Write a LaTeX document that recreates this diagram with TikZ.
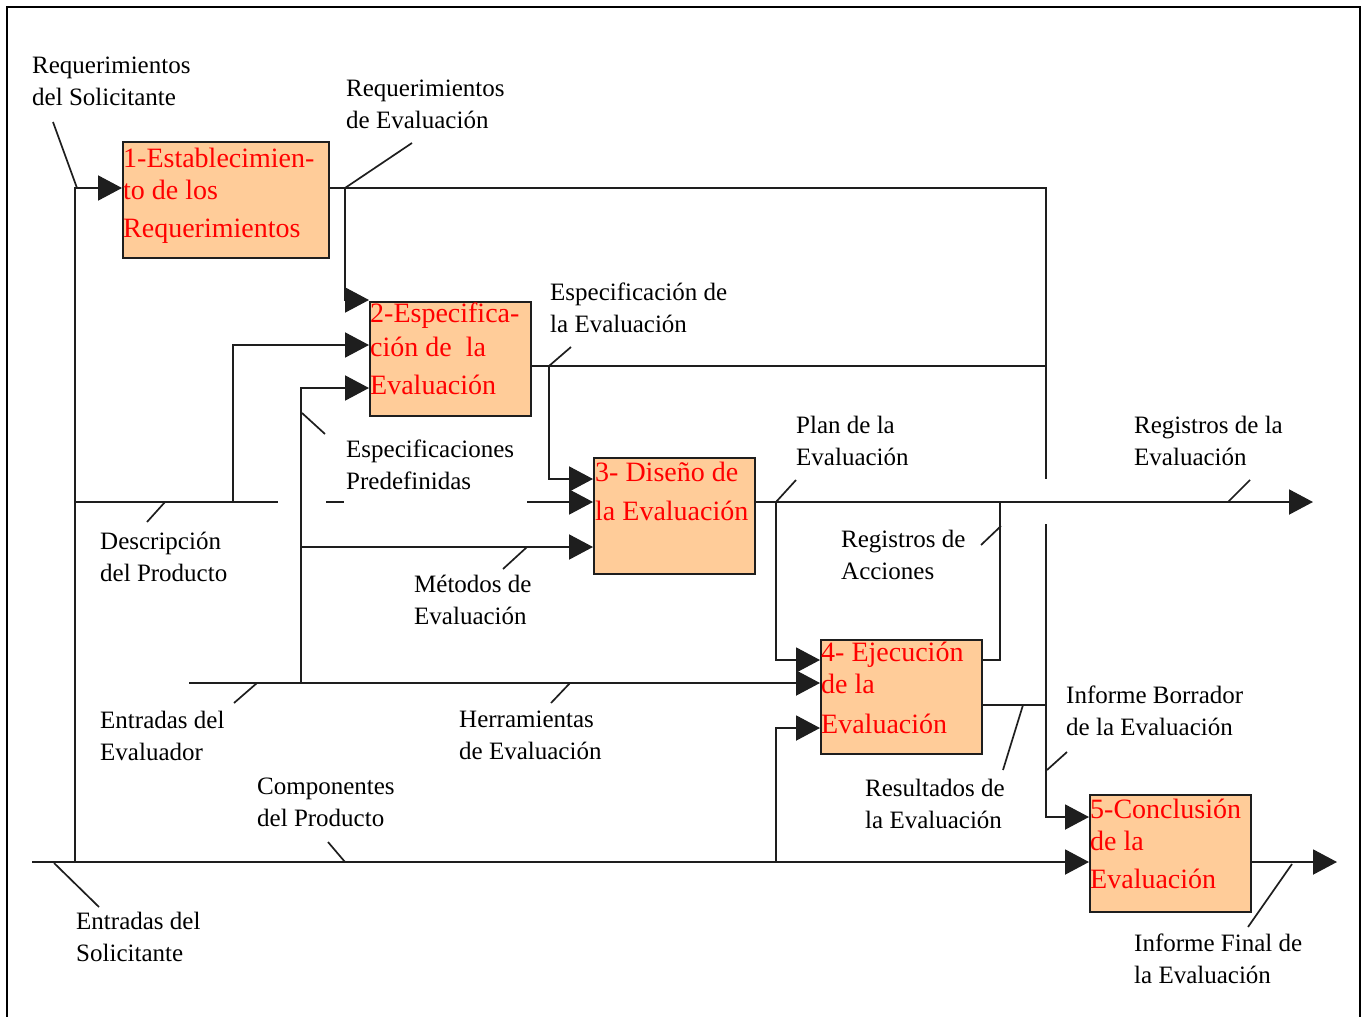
\documentclass[tikz,border=0pt]{standalone}
\usepackage{fontspec}
\setmainfont{Liberation Serif}
\usetikzlibrary{arrows.meta}
\definecolor{peach}{RGB}{255,204,153}
\definecolor{lncol}{RGB}{30,30,30}
\begin{document}
\begin{tikzpicture}[x=1pt,y=-1pt,
  ln/.style={draw=lncol, line width=2pt},
  arr/.style={ln, -{Triangle[length=24pt,width=25pt]}},
  lead/.style={draw=lncol, line width=1.7pt},
  procbox/.style={draw=lncol, line width=2pt, fill=peach, inner sep=0pt, anchor=north west},
  boxtxt/.style={text=red, font=\fontsize{28}{32}\selectfont, align=left, inner sep=0pt, anchor=north west, execute at begin node={\rule{0pt}{22pt}}},
  lbl/.style={text=black, font=\fontsize{25}{32}\selectfont, align=left, inner sep=0pt, anchor=north west, execute at begin node={\rule{0pt}{20pt}}}]
\useasboundingbox (0,0) rectangle (1366,1017);
% frame
\draw[line width=2pt, black] (7,1017) -- (7,7) -- (1360,7) -- (1360,1017);

% process boxes
\node[procbox, minimum width=206pt, minimum height=116pt] (b1) at (122,141) {};
\node[procbox, minimum width=161pt, minimum height=114pt] (b2) at (369,301) {};
\node[procbox, minimum width=161pt, minimum height=116pt] (b3) at (593,457) {};
\node[procbox, minimum width=161pt, minimum height=114pt] (b4) at (820,639) {};
\node[procbox, minimum width=161pt, minimum height=117pt] (b5) at (1089,794) {};

% junction / free-end coordinates
\coordinate (solL) at (32,862);
\coordinate (solT) at (75,862);
\coordinate (solK) at (75,188);
\coordinate (desJ) at (75,502);
\coordinate (desA) at (278,502);
\coordinate (desB) at (326,502);
\coordinate (desC) at (344,502);
\coordinate (desD) at (527,502);
\coordinate (desU) at (233,502);
\coordinate (desK) at (233,345);
\coordinate (reJ) at (345,188);
\coordinate (reK) at (345,300);
\coordinate (trTop) at (1046,188);
\coordinate (trGapA) at (1046,479);
\coordinate (trGapB) at (1046,524);
\coordinate (trBot) at (1046,817);
\coordinate (esJ) at (549,366);
\coordinate (esK) at (549,479);
\coordinate (esE) at (1046,366);
\coordinate (evJ) at (301,683);
\coordinate (evK) at (301,388);
\coordinate (meJ) at (301,547);
\coordinate (evL) at (189,683);
\coordinate (reOut) at (1313,502);
\coordinate (plJ) at (776,502);
\coordinate (plK) at (776,660);
\coordinate (coJ) at (776,862);
\coordinate (coK) at (776,728);
\coordinate (raK) at (1000,660);
\coordinate (raJ) at (1000,502);
\coordinate (ibE) at (1046,705);
\coordinate (ifOut) at (1337,862);

% connectors
\draw[arr] (solL) -- (b5.west |- solL);
\draw[arr] (solT) -- (solK) -- (b1.west |- solK);
\draw[ln] (desJ) -- (desA);
\draw[ln] (desB) -- (desC);
\draw[arr] (desD) -- (b3.west |- desD);
\draw[arr] (desU) -- (desK) -- (b2.west |- desK);
\draw[ln] (b1.east |- reJ) -- (trTop) -- (trGapA);
\draw[arr] (reJ) -- (reK) -- (b2.west |- reK);
\draw[ln] (b2.east |- esJ) -- (esE);
\draw[arr] (esJ) -- (esK) -- (b3.west |- esK);
\draw[arr] (evJ) -- (evK) -- (b2.west |- evK);
\draw[arr] (meJ) -- (b3.west |- meJ);
\draw[arr] (evL) -- (b4.west |- evL);
\draw[arr] (b3.east |- plJ) -- (reOut);
\draw[arr] (plJ) -- (plK) -- (b4.west |- plK);
\draw[arr] (coJ) -- (coK) -- (b4.west |- coK);
\draw[ln] (b4.east |- raK) -- (raK) -- (raJ);
\draw[ln] (b4.east |- ibE) -- (ibE);
\draw[arr] (trGapB) -- (trBot) -- (b5.west |- trBot);
\draw[arr] (b5.east |- ifOut) -- (ifOut);

% leader lines
\draw[lead] (53,122) -- (77,188);
\draw[lead] (reJ) -- (412,143);
\draw[lead] (esJ) -- (571,347);
\draw[lead] (302,413) -- (325,434);
\draw[lead] (147,522) -- (165,502);
\draw[lead] (503,569) -- (527,547);
\draw[lead] (plJ) -- (796,480);
\draw[lead] (1228,502) -- (1250,480);
\draw[lead] (981,545) -- (1001,526);
\draw[lead] (234,703) -- (257,683);
\draw[lead] (551,703) -- (570,683);
\draw[lead] (1047,770) -- (1067,752);
\draw[lead] (1003,770) -- (1023,705);
\draw[lead] (328,842) -- (345,862);
\draw[lead] (54,863) -- (99,907);
\draw[lead] (1248,927) -- (1292,864);

% box texts
\node[boxtxt] (t1) at (123,148) {1-Establecimien-\\to de los\\[6pt]Requerimientos};
\node[boxtxt] (t2) at (370,303) {2-Especifica-\\[2pt]ción de\ \ la\\[6pt]Evaluación};
\node[boxtxt] (t3) at (595,462) {3- Diseño de\\[7pt]la Evaluación};
\node[boxtxt] (t4) at (821,642) {4- Ejecución\\de la\\[8pt]Evaluación};
\node[boxtxt] (t5) at (1090,799) {5-Conclusión\\de la\\[6pt]Evaluación};

% labels
\node[lbl] (lReqSol) at (32,57) {Requerimientos\\del Solicitante};
\node[lbl] (lReqEval) at (346,80) {Requerimientos\\de Evaluación};
\node[lbl] (lEspEval) at (550,283) {Especificación de\\la Evaluación};
\node[lbl] (lEspPred) at (346,440) {Especificaciones\\Predefinidas};
\node[lbl] (lDesc) at (100,532) {Descripción\\del Producto};
\node[lbl] (lMet) at (414,575) {Métodos de\\Evaluación};
\node[lbl] (lPlan) at (796,416) {Plan de la\\Evaluación};
\node[lbl] (lRegEval) at (1134,416) {Registros de la\\Evaluación};
\node[lbl] (lRegAcc) at (841,530) {Registros de\\Acciones};
\node[lbl] (lEntEval) at (100,711) {Entradas del\\Evaluador};
\node[lbl] (lHerr) at (459,711) {Herramientas\\de Evaluación};
\node[lbl] (lInfBorr) at (1066,686) {Informe Borrador\\de la Evaluación};
\node[lbl] (lRes) at (865,779) {Resultados de\\la Evaluación};
\node[lbl] (lComp) at (257,778) {Componentes\\del Producto};
\node[lbl] (lEntSol) at (76,912) {Entradas del\\Solicitante};
\node[lbl] (lInfFin) at (1134,934) {Informe Final de\\la Evaluación};
\end{tikzpicture}
\end{document}
